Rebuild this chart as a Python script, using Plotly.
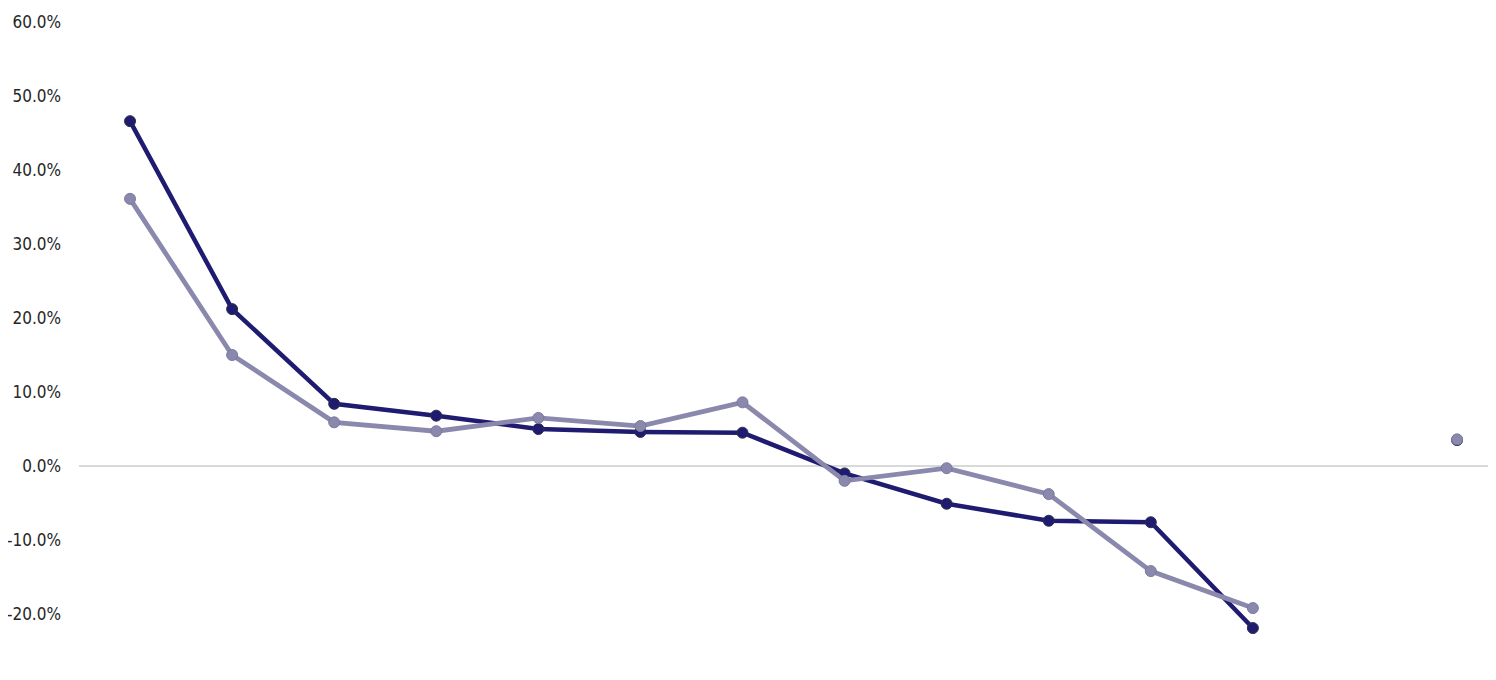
import plotly.graph_objects as go

categories = list(range(14))
series_dark = [46.6, 21.2, 8.4, 6.8, 5.0, 4.6, 4.5, -1.0, -5.1, -7.4, -7.6, -21.9, None, 3.5]
series_light = [36.1, 15.0, 5.9, 4.7, 6.5, 5.4, 8.6, -2.0, -0.3, -3.8, -14.2, -19.2, None, 3.6]
tick_vals = [60, 50, 40, 30, 20, 10, 0, -10, -20, -30]
tick_text = ["60.0%", "50.0%", "40.0%", "30.0%", "20.0%", "10.0%", "0.0%", "-10.0%", "-20.0%", "-30.0%"]

FONT = "DejaVu Sans Condensed, Liberation Sans, sans-serif"
Y_MIN, Y_MAX = -30.0, 61.62

fig = go.Figure()
fig.add_trace(go.Scatter(
    x=categories, y=series_dark, mode="lines+markers",
    line=dict(color="#1f1b70", width=4.5),
    marker=dict(size=11, color="#1f1b70", line=dict(color="#2a2f4a", width=1)),
    connectgaps=False, showlegend=False,
))
fig.add_trace(go.Scatter(
    x=categories, y=series_light, mode="lines+markers",
    line=dict(color="#8a89ad", width=4.8),
    marker=dict(size=11, color="#8a89ad", line=dict(color="#7a7a9e", width=1)),
    connectgaps=False, showlegend=False,
))

fig.update_layout(
    width=1496, height=680,
    margin=dict(l=71, r=0, t=2, b=0),
    paper_bgcolor="white", plot_bgcolor="white",
    font=dict(family=FONT, size=17, color="#262626"),
    xaxis=dict(range=[-0.5, 13.46], showticklabels=False, showgrid=False,
               zeroline=False, showline=False, ticks=""),
    yaxis=dict(range=[Y_MIN, Y_MAX], tickvals=tick_vals, ticktext=tick_text,
               showgrid=False, zeroline=True, zerolinecolor="#d9d9d9",
               zerolinewidth=2, showline=False, ticks="",
               ticklabelstandoff=17, tickfont=dict(family=FONT, size=17, color="#262626")),
)

fig.write_html("out.html")
